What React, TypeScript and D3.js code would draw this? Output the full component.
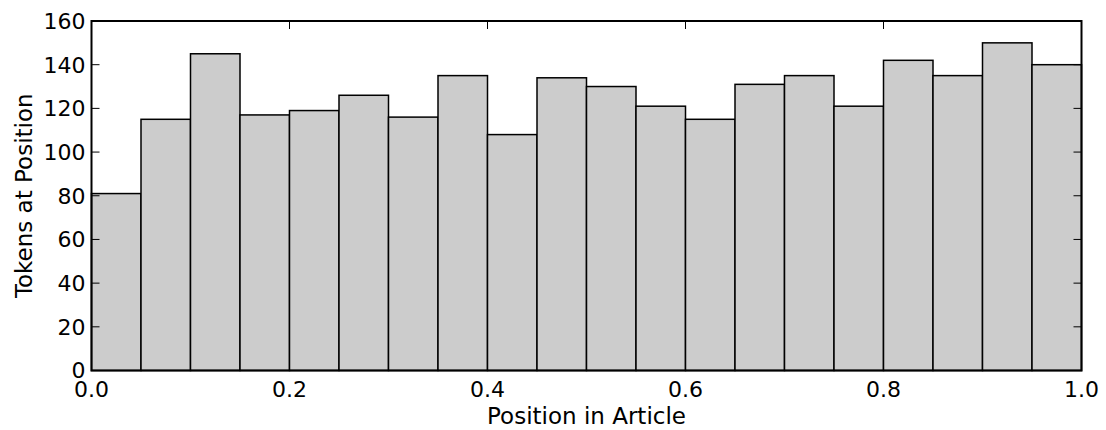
import React from "react";
import * as d3 from "d3";

const binStarts = [0, 0.05, 0.1, 0.15, 0.2, 0.25, 0.3, 0.35, 0.4, 0.45, 0.5, 0.55, 0.6, 0.65, 0.7, 0.75, 0.8, 0.85, 0.9, 0.95];
const counts = [81, 115, 145, 117, 119, 126, 116, 135, 108, 134, 130, 121, 115, 131, 135, 121, 142, 135, 150, 140];
const binWidth = 0.05;
const xTicks = [0, 0.2, 0.4, 0.6, 0.8, 1.0];
const yTicks = [0, 20, 40, 60, 80, 100, 120, 140, 160];

const W = 1106, H = 430;
const L = 91.5, R = 1081.5, T = 21, B = 370.5;
const FONT = "DejaVu Sans, sans-serif";

export default function App() {
  const x = d3.scaleLinear().domain([0, 1]).range([L, R]);
  const y = d3.scaleLinear().domain([0, 160]).range([B, T]);
  const tick = 8;
  return (
    <svg width={W} height={H} style={{ position: "absolute", left: 0, top: 0, background: "#fff" }}>
      {binStarts.map((s, i) => (
        <rect key={i} x={x(s)} y={y(counts[i])} width={x(s + binWidth) - x(s)} height={y(0) - y(counts[i])}
          fill="#cccccc" stroke="#000" strokeWidth={1.5} />
      ))}
      {yTicks.map((t) => (
        <g key={"y" + t}>
          <line x1={L} x2={L + tick} y1={y(t)} y2={y(t)} stroke="#000" strokeWidth={1} />
          <line x1={R} x2={R - tick} y1={y(t)} y2={y(t)} stroke="#000" strokeWidth={1} />
          <text x={L - 6} y={y(t)} dy="0.36em" textAnchor="end" fontFamily={FONT} fontSize={22} fill="#000">{t}</text>
        </g>
      ))}
      {xTicks.map((t) => (
        <g key={"x" + t}>
          <line x1={x(t)} x2={x(t)} y1={B} y2={B - tick} stroke="#000" strokeWidth={1} />
          <line x1={x(t)} x2={x(t)} y1={T} y2={T + tick} stroke="#000" strokeWidth={1} />
          <text x={x(t)} y={397} textAnchor="middle" fontFamily={FONT} fontSize={22} fill="#000">{t.toFixed(1)}</text>
        </g>
      ))}
      <rect x={L} y={T} width={R - L} height={B - T} fill="none" stroke="#000" strokeWidth={2} />
      <text x={(L + R) / 2} y={424} textAnchor="middle" fontFamily={FONT} fontSize={23} fill="#000">Position in Article</text>
      <text transform={`translate(32, ${(T + B) / 2}) rotate(-90)`} textAnchor="middle" fontFamily={FONT} fontSize={23} fill="#000">Tokens at Position</text>
    </svg>
  );
}
